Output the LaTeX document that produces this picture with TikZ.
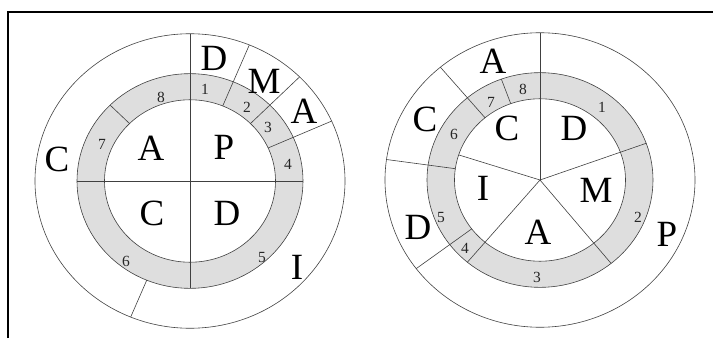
\documentclass[tikz,border=0pt]{standalone}
\usepackage{fontspec}
\setmainfont{Liberation Serif}
\tikzset{ring/.style={draw=black!75,line width=0.6pt},
  band/.style={fill=black!13,even odd rule},
  sep/.style={draw=black!75,line width=0.6pt},
  letter/.style={font=\fontsize{37}{37}\selectfont,inner sep=0pt},
  num/.style={font=\fontsize{15.5}{15.5}\selectfont,inner sep=0pt,text=black!85}}
\begin{document}
\begin{tikzpicture}[x=1pt,y=1pt]
\useasboundingbox (0,0) rectangle (713,338);
\draw[line width=2pt] (8,0) -- (8,326) -- (713,326);
% left wheel: PDCA with the eight steps
\begin{scope}[shift={(190,157)},yscale=0.95]
\fill[band] (0,0) circle (113) (0,0) circle (85.5);
\draw[ring] (0,0) circle (155) (0,0) circle (113) (0,0) circle (85.5);
\draw[sep] (180:113) -- (0:113);
\draw[sep] (90:155) -- (270:113);
\draw[sep] (67.5:85.5) -- (67.5:155);
\draw[sep] (45:85.5) -- (45:155);
\draw[sep] (24:85.5) -- (24:155);
\draw[sep] (135:85.5) -- (135:113);
\draw[sep] (247.5:113) -- (247.5:155);
\end{scope}
\node[letter] (lA) at (151,190) {A}; \node[letter] (lP) at (224,191) {P};
\node[letter] (lC) at (152,125) {C}; \node[letter] (lD) at (227,125) {D};
\node[letter] (loD) at (214,280) {D}; \node[letter] (loM) at (264,257) {M};
\node[letter] (loA) at (304,227) {A}; \node[letter] (loI) at (297,71) {I};
\node[letter] (loC) at (57,179) {C};
\node[num] (ln1) at (205,249) {1}; \node[num] (ln2) at (247,231) {2};
\node[num] (ln3) at (268,211) {3}; \node[num] (ln4) at (288,174) {4};
\node[num] (ln5) at (262,80) {5}; \node[num] (ln6) at (126,77) {6};
\node[num] (ln7) at (102,194) {7}; \node[num] (ln8) at (161,241) {8};
% right wheel: DMAIC with the eight steps
\begin{scope}[shift={(540,158)},yscale=0.95]
\fill[band] (0,0) circle (113) (0,0) circle (85.5);
\draw[ring] (0,0) circle (155) (0,0) circle (113) (0,0) circle (85.5);
\draw[sep] (0,0) -- (90:155);
\draw[sep] (0,0) -- (20:113);
\draw[sep] (0,0) -- (-51:113);
\draw[sep] (0,0) -- (230:113);
\draw[sep] (0,0) -- (162:85.5);
\draw[sep] (110:85.5) -- (110:113);
\draw[sep] (130:85.5) -- (130:155);
\draw[sep] (172:85.5) -- (172:155);
\draw[sep] (217:85.5) -- (217:155);
\end{scope}
\node[letter] (rC) at (507,210) {C}; \node[letter] (rD) at (574,210) {D};
\node[letter] (rI) at (483,150) {I}; \node[letter] (rM) at (596,148) {M};
\node[letter] (rA) at (538,106) {A};
\node[letter] (roA) at (493,277) {A}; \node[letter] (roC) at (425,219) {C};
\node[letter] (roD) at (418,111) {D}; \node[letter] (roP) at (667,104) {P};
\node[num] (rn1) at (602,231) {1}; \node[num] (rn2) at (638,121) {2};
\node[num] (rn3) at (537,61) {3}; \node[num] (rn4) at (465,90) {4};
\node[num] (rn5) at (441,120) {5}; \node[num] (rn6) at (454,204) {6};
\node[num] (rn7) at (491,236) {7}; \node[num] (rn8) at (523,249) {8};
\end{tikzpicture}
\end{document}
